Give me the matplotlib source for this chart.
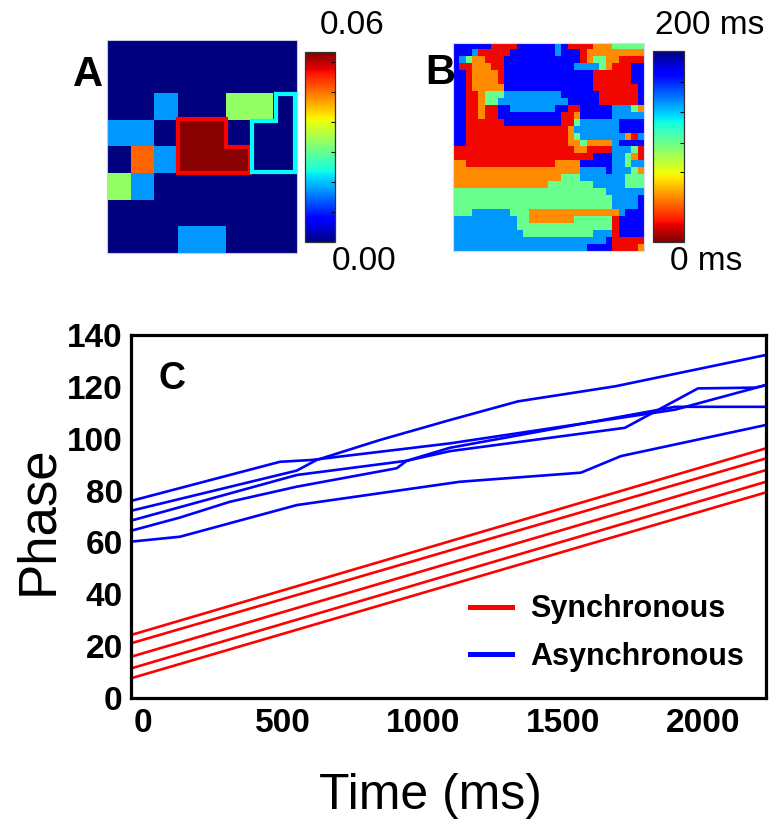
import numpy as np
import matplotlib
matplotlib.use('Agg')
import matplotlib.pyplot as plt
from matplotlib.lines import Line2D

plt.rcParams['font.family'] = ['Liberation Sans', 'DejaVu Sans']

# ---------------- data ----------------
# Panel A: 8x8 map (codes -> values)
a_levels = {'0': 0.0, 'c': 0.0175, 'g': 0.0337, 'o': 0.051, 'R': 0.063}
a_rows = ["00000000",
          "00000000",
          "00c00gg0",
          "cc0RR000",
          "0ocRRR00",
          "gc000000",
          "00000000",
          "000cc000"]
a_vmax = 0.0635
a_cbar_ticks = [0.01, 0.02, 0.03, 0.04, 0.05, 0.06]
red_outline_x = [3, 5, 5, 6, 6, 3, 3]
red_outline_y = [2.95, 2.95, 4, 4, 5, 5, 2.95]
cyan_outline_x = [7.1, 7.93, 7.93, 6.1, 6.1, 7.1, 7.1]
cyan_outline_y = [2.02, 2.02, 4.95, 4.95, 3.05, 3.05, 2.02]

# Panel B: 30x30 activation-time map (ms)
b_levels = {'b': 176, 'c': 145, 'g': 104, 'o': 48, 'r': 20}
b_rows = [
    "bbbbbbrrrrbbbbb" + "bcbrrrroooggggg",
    "bbbcrrrrrbbbbbb" + "bcbbbrooooooooo",
    "bcgoorrrbbbbbbb" + "bbbbbroggoorrrr",
    "brrooorrbbbbbbb" + "bbbbccccgorrrbb",
    "bbroooorbbbbbbb" + "bbbbbbbrrrrrrbb",
    "bbroooorbbbbbbb" + "bbbbbbbrrrrrrbb",
    "bbrooooobbbbbbb" + "bbbbbbbrrrrrrrb",
    "bbrrogggccccccc" + "ccbbbbbbrrrrrrb",
    "bbrroggcccccccc" + "cccbbbbbrrrrrrb",
    "bbrrorrbbcccccc" + "cbbrrbbbbbcccgo",
    "bbrrorrbbbbbbbb" + "bbrrobbbbbccccc",
    "bbrrrrrrbbbbbbb" + "bbrrgccccccbbbb",
    "bbrrrrrrrrrrrrr" + "rrrocccccccbbbb",
    "bbrrrrrrrrrrrrr" + "rrrogcccccccorc",
    "bbrrrrrrrrrrrrr" + "rrroogoooocbbbb",
    "rrrrrrrrrrrrrrr" + "rrrroorrrrcccgr",
    "rrrrrrrrrrrrrrr" + "rrrrrrrbbbccgor",
    "oorrrrrrrrrrrrr" + "roooobbbbbccgcc",
    "ooooooooooooooo" + "oooooccccbcccgo",
    "ooooooooooooooo" + "oogggcccccccggg",
    "ooooooooooooooo" + "gggggggcccccggg",
    "ggggggggggggggg" + "gggggggggcccccc",
    "ggggggggggggggg" + "ggggggggggccccb",
    "ggggggggggggggg" + "ggggggggggccccb",
    "gggccccccgggooo" + "ooooooooooocbbb",
    "ccccccccccggooo" + "ooooggggggrbbbb",
    "ccccccccccggggg" + "ggggggggggrbbbb",
    "cccccccccccgggg" + "gggggggcccrbbbb",
    "ccccccccccccccc" + "cccccccccbrrrrr",
    "ccccccccccccccc" + "ccccccbbbbrrrro",
]
b_vmax = 200
b_cbar_ticks = [73, 104, 136, 168]

# Panel C
sync_time = [-43, 2225]
sync_start = [24.3, 21.1, 15.9, 11.4, 7.6]
sync_end = [96.3, 92.4, 87.9, 83.4, 79.3]

async_time = [
    [-43, 549, 620, 846, 1096, 1339, 1686, 2225],
    [-43, 489, 602, 1096, 1900, 2225],
    [-43, 549, 942, 1096, 1721, 1982, 2186, 2225],
    [-43, 132, 311, 549, 906, 942, 1096, 1900, 2225],
    [-43, 132, 549, 1132, 1564, 1707, 2225],
]
async_phase = [
    [72.2, 87.7, 91.8, 99.5, 107.2, 114.4, 120.2, 132.3],
    [76.0, 91.1, 91.8, 98.2, 111.2, 120.7],
    [68.4, 86.0, 91.5, 95.2, 104.2, 119.4, 119.7, 120.7],
    [64.5, 69.6, 75.7, 81.5, 88.6, 91.5, 96.5, 112.3, 112.3],
    [60.3, 62.2, 74.4, 83.4, 86.9, 93.3, 105.3],
]
x_ticks = [0, 500, 1000, 1500, 2000]
y_ticks = [0, 20, 40, 60, 80, 100, 120, 140]

# ---------------- figure ----------------
W, H = 783, 827
fig = plt.figure(figsize=(W / 100, H / 100), dpi=100)


def box(x0, y0, x1, y1):
    return [x0 / W, 1 - y1 / H, (x1 - x0) / W, (y1 - y0) / H]


def ftext(x, y, s, **kw):
    fig.text(x / W, 1 - y / H, s, ha='center', va='center', **kw)


# Panel A
axa = fig.add_axes(box(107, 40, 297, 253))
a_data = np.array([[a_levels[ch] for ch in row] for row in a_rows])
ima = axa.imshow(a_data, cmap='jet', vmin=0, vmax=a_vmax, aspect='auto',
                 extent=(0, 8, 8, 0), interpolation='nearest')
axa.plot(red_outline_x, red_outline_y, color='#ff0000', lw=3.0,
         solid_joinstyle='miter', clip_on=False)
axa.plot(cyan_outline_x, cyan_outline_y, color='#00ffff', lw=3.0,
         solid_joinstyle='miter', clip_on=False)
axa.set_xlim(0, 8)
axa.set_ylim(8, 0)
axa.set_xticks([])
axa.set_yticks([])
for s in axa.spines.values():
    s.set_color('#c8c8e6')
    s.set_linewidth(0.8)

caxa = fig.add_axes(box(305, 52, 335, 242))
cba = fig.colorbar(ima, cax=caxa, ticks=a_cbar_ticks)
cba.ax.tick_params(direction='in', length=3, width=0.8, labelright=False,
                   right=True, colors='black')
cba.outline.set_linewidth(0.9)
cba.outline.set_edgecolor('#333333')

ftext(88, 75, 'A', fontsize=30, fontweight='bold')
ftext(352, 25, '0.06', fontsize=24)
ftext(364, 261, '0.00', fontsize=24)

# Panel B
axb = fig.add_axes(box(453, 43, 644, 251))
b_data = np.array([[b_levels[ch] for ch in row] for row in b_rows])
imb = axb.imshow(b_data, cmap='jet_r', vmin=0, vmax=b_vmax, aspect='auto',
                 interpolation='nearest')
axb.set_xticks([])
axb.set_yticks([])
for s in axb.spines.values():
    s.set_color('#d8d8ee')
    s.set_linewidth(0.8)

caxb = fig.add_axes(box(653, 51, 684, 242))
cbb = fig.colorbar(imb, cax=caxb, ticks=b_cbar_ticks)
cbb.ax.tick_params(direction='in', length=3, width=0.8, labelright=False,
                   right=True, colors='black')
cbb.outline.set_linewidth(0.9)
cbb.outline.set_edgecolor('#333333')

ftext(440, 73, 'B', fontsize=30, fontweight='bold')
ftext(710, 25, '200 ms', fontsize=24)
ftext(706, 262, '0 ms', fontsize=24)

# Panel C
axc = fig.add_axes(box(131, 335, 766, 698))
for y0, y1 in zip(sync_start, sync_end):
    axc.plot(sync_time, [y0, y1], color='#ff0000', lw=1.9)
for t, p in zip(async_time, async_phase):
    axc.plot(t, p, color='#0000ff', lw=1.9)
axc.set_xlim(sync_time[0], sync_time[-1])
axc.set_ylim(0, 140)
axc.set_xticks(x_ticks)
axc.set_yticks(y_ticks)
axc.set_xticklabels([str(v) for v in x_ticks], fontsize=24, fontweight='bold')
axc.set_yticklabels([str(v) for v in y_ticks], fontsize=24, fontweight='bold')
axc.tick_params(axis='both', length=0)
axc.tick_params(axis='x', pad=7)
axc.tick_params(axis='y', pad=6)
for s in axc.spines.values():
    s.set_linewidth(2.3)
    s.set_color('black')

axc.text(0.065, 0.88, 'C', transform=axc.transAxes, fontsize=27,
         fontweight='bold', ha='center', va='center')

handles = [Line2D([], [], color='#ff0000', lw=3.6),
           Line2D([], [], color='#0000ff', lw=3.6)]
leg = axc.legend(handles, ['Synchronous', 'Asynchronous'], loc='center left',
                 bbox_to_anchor=(470 / W, 1 - 633 / H),
                 bbox_transform=fig.transFigure, frameon=False,
                 prop={'size': 22, 'weight': 'bold'}, handlelength=1.37,
                 handletextpad=0.6, labelspacing=0.56, borderpad=0,
                 borderaxespad=0)

ftext(38, 520, 'Phase', fontsize=38, rotation=90)
ftext(430, 796, 'Time (ms)', fontsize=36)

fig.savefig('out.png', dpi=100)
